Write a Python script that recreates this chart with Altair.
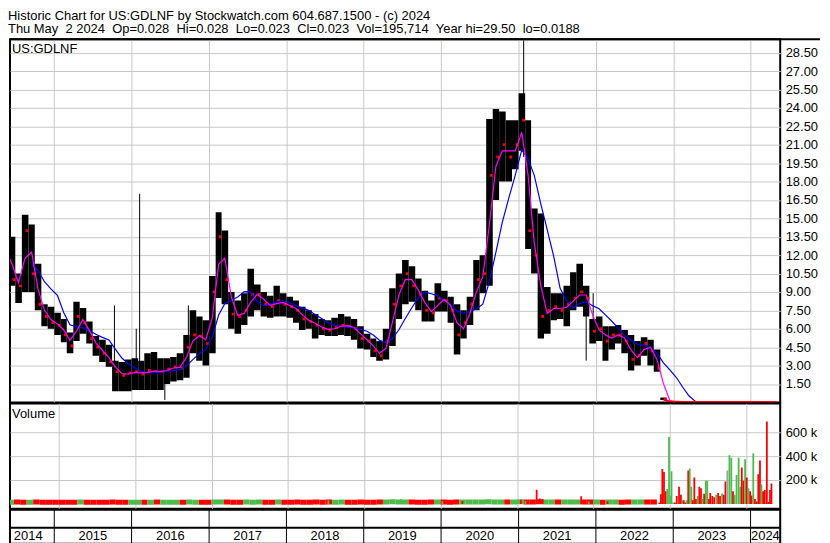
import altair as alt
import pandas as pd

FONT = "Liberation Sans"
GRID = "#c8c8c8"
RED = "#ff0000"
GREEN = "#4cbb4c"
GRAY = "#a0a0a0"
W = 774

title_lines = [
    "Historic Chart for US:GDLNF by Stockwatch.com 604.687.1500 - (c) 2024",
    "Thu May \u00a02 2024 \u00a0Op=0.028 \u00a0Hi=0.028 \u00a0Lo=0.023 \u00a0Cl=0.023 \u00a0Vol=195,714 \u00a0Year hi=29.50 \u00a0lo=0.0188",
]
symbol = "US:GDLNF"
price_ticks = [1.5, 3.0, 4.5, 6.0, 7.5, 9.0, 10.5, 12.0, 13.5, 15.0, 16.5, 18.0,
               19.5, 21.0, 22.5, 24.0, 25.5, 27.0, 28.5]
volume_ticks = [200, 400, 600]  # thousands

# ---- monthly price bars, May 2014 .. May 2024 ----
high = [
    15.0, 13.5, 10.5, 15.3, 14.5, 11.3, 8.0, 7.8,                      # 2014
    7.3, 6.8, 5.7, 8.2, 7.7, 6.6, 5.4, 5.1, 4.7, 3.4, 3.3, 3.5,        # 2015
    3.6, 3.4, 4.0, 4.1, 3.6, 3.6, 3.7, 4.0, 5.5, 7.5, 7.0, 6.7,        # 2016
    10.3, 15.5, 14.0, 9.0, 8.3, 8.9, 10.9, 9.6, 9.0, 8.7, 9.5, 8.9,    # 2017
    8.6, 8.3, 7.8, 7.5, 7.2, 6.8, 6.7, 6.9, 7.2, 7.0, 6.8, 6.2,        # 2018
    5.6, 5.2, 5.0, 6.0, 9.3, 10.5, 11.6, 11.1, 10.1, 9.1, 8.3, 9.7,    # 2019
    9.1, 8.6, 8.0, 7.5, 8.6, 11.6, 12.0, 23.1, 23.9, 23.7, 23.0, 23.0, # 2020
    25.2, 23.0, 15.8, 15.4, 9.4, 8.9, 8.9, 9.5, 10.6, 11.3, 9.5, 6.8,  # 2021
    7.0, 6.2, 6.2, 6.3, 5.9, 5.5, 5.0, 5.3, 5.1, 4.3, 0.40, 0.10,      # 2022
    0.08, 0.07, 0.06, 0.06, 0.06, 0.05, 0.05, 0.05, 0.05, 0.06, 0.05, 0.05,  # 2023
    0.04, 0.045, 0.04, 0.035, 0.028,                                   # 2024
]
low = [
    11.5, 9.5, 8.1, 9.0, 9.0, 7.5, 6.2, 6.0,
    5.5, 4.9, 4.0, 5.0, 5.6, 4.8, 3.8, 3.3, 2.9, 0.9, 0.9, 0.9,
    1.0, 1.0, 1.0, 1.0, 1.0, 1.5, 1.7, 1.8, 2.0, 4.0, 3.4, 3.0,
    4.0, 8.5, 8.0, 6.0, 5.6, 6.3, 7.0, 7.5, 7.0, 6.9, 7.0, 7.0,
    6.9, 6.5, 5.9, 6.0, 5.2, 5.5, 5.4, 5.4, 5.5, 5.4, 5.1, 4.4,
    4.3, 3.7, 3.4, 3.5, 4.6, 6.8, 8.0, 8.2, 7.5, 6.6, 6.6, 7.4,
    7.4, 6.5, 3.9, 5.2, 6.3, 7.5, 8.9, 9.5, 16.5, 18.0, 18.0, 19.0,
    20.5, 12.5, 10.5, 5.2, 5.6, 6.7, 6.8, 6.2, 7.5, 7.8, 7.0, 4.8,
    5.0, 3.4, 4.3, 4.8, 4.0, 2.6, 3.0, 3.8, 3.0, 2.5, 0.20, 0.03,
    0.03, 0.03, 0.03, 0.03, 0.03, 0.03, 0.03, 0.025, 0.025, 0.03, 0.03, 0.025,
    0.025, 0.025, 0.02, 0.02, 0.023,
]
close = [
    12.5, 10.0, 9.5, 14.0, 10.5, 8.0, 7.0, 6.5,
    6.3, 5.5, 4.6, 7.0, 6.5, 5.2, 4.5, 4.0, 3.3, 2.5, 2.2, 2.4,
    2.5, 2.3, 2.6, 2.5, 2.5, 2.7, 2.9, 2.8, 4.5, 5.5, 5.4, 4.8,
    9.0, 13.5, 10.0, 7.2, 7.0, 7.5, 8.8, 8.8, 8.0, 7.8, 8.3, 8.0,
    7.8, 7.5, 6.8, 6.6, 6.3, 6.0, 5.9, 6.1, 6.3, 6.2, 6.0, 5.2,
    5.0, 4.2, 3.8, 5.0, 8.0, 9.5, 10.5, 9.5, 8.8, 7.5, 7.3, 8.5,
    8.3, 7.5, 5.5, 6.5, 8.0, 10.0, 10.5, 18.5, 20.0, 21.0, 20.0, 21.0,
    23.0, 14.0, 12.0, 7.0, 7.5, 7.8, 7.5, 8.0, 8.5, 9.0, 8.5, 5.8,
    6.0, 5.0, 5.5, 5.5, 5.0, 3.5, 3.8, 4.8, 4.2, 2.8, 0.25, 0.05,
    0.05, 0.04, 0.04, 0.04, 0.04, 0.04, 0.035, 0.03, 0.035, 0.04, 0.035, 0.03,
    0.03, 0.03, 0.025, 0.025, 0.023,
]

# single-week spikes that stick out of the monthly bars
spike_dates = ["2015-10-12", "2016-01-23", "2016-02-08", "2016-06-06", "2016-09-25",
               "2021-01-25", "2021-11-16", "2021-12-19"]
spike_high = [7.9, 6.0, 17.0, 2.5, 7.9, 29.5, 8.5, 8.9]
spike_low = [1.5, 1.5, 1.0, 0.2, 3.5, 20.0, 3.4, 5.0]

# ---- volume (thousands) ----
vol_monthly = [
    14, 15, 13, 14, 16, 14, 13, 14,
    13, 14, 14, 15, 13, 14, 13, 14, 15, 14, 13, 14,
    14, 13, 14, 15, 14, 13, 14, 14, 15, 13, 14, 14,
    15, 16, 15, 14, 14, 15, 14, 15, 14, 14, 15, 14,
    14, 15, 14, 14, 15, 14, 16, 14, 15, 14, 14, 15,
    14, 14, 15, 16, 17, 16, 15, 15, 14, 14, 15, 15,
    15, 14, 16, 15, 15, 16, 15, 17, 16, 15, 15, 16,
    17, 16, 16, 17, 16, 15, 15, 16, 16, 15, 16, 15,
    15, 14, 15, 15, 14, 15, 16, 15, 15, 16,
]
bump_dates = ["2017-03-10", "2018-02-20", "2018-07-14", "2019-03-20", "2019-06-27", "2019-08-15",
              "2020-01-10", "2020-04-15", "2020-06-10", "2020-08-20", "2021-01-20", "2021-02-10",
              "2021-04-05", "2021-04-20", "2021-05-04", "2021-06-15", "2021-09-16", "2021-11-04",
              "2021-12-10", "2022-03-10", "2022-07-15"]
bump_vol = [20, 18, 28, 20, 40, 25, 22, 25, 22, 30, 35, 25, 118, 45, 40, 25, 28, 64, 20, 22, 20]
bump_dir = ["down", "down", "up", "down", "up", "down", "up", "down", "up", "up", "down", "up",
            "down", "down", "down", "up", "up", "down", "up", "down", "up"]

late_dates = [
    "2022-11-12", "2022-11-20", "2022-11-27", "2022-12-05", "2022-12-13", "2022-12-21", "2022-12-29",
    "2023-01-05", "2023-01-10", "2023-01-18", "2023-01-26", "2023-02-04", "2023-02-15", "2023-02-24",
    "2023-03-04", "2023-03-10", "2023-03-18", "2023-03-24", "2023-03-31", "2023-04-07", "2023-04-15",
    "2023-04-21", "2023-04-29", "2023-05-07", "2023-05-15", "2023-05-23", "2023-05-31", "2023-06-07",
    "2023-06-15", "2023-06-23", "2023-06-30", "2023-07-08", "2023-07-14", "2023-07-24", "2023-08-02",
    "2023-08-12", "2023-08-21", "2023-08-30", "2023-09-09", "2023-09-17", "2023-09-25", "2023-10-04",
    "2023-10-14", "2023-10-23", "2023-10-31", "2023-11-08", "2023-11-17", "2023-11-27", "2023-12-05",
    "2023-12-12", "2023-12-20", "2023-12-28", "2024-01-05", "2024-01-13", "2024-01-21", "2024-01-28",
    "2024-02-05", "2024-02-13", "2024-02-21", "2024-02-29", "2024-03-08", "2024-03-15", "2024-03-23",
    "2024-03-31", "2024-04-10", "2024-04-17", "2024-04-25", "2024-05-02",
]
late_vol = [
    10, 80, 292, 266, 105, 125, 561, 70, 274, 12,
    12, 66, 143, 77, 30, 30, 12, 30, 279, 297,
    143, 30, 220, 40, 66, 143, 130, 40, 85, 194,
    194, 40, 92, 66, 55, 77, 92, 66, 88, 77,
    187, 280, 408, 387, 105, 77, 241, 387, 143, 305,
    194, 374, 220, 130, 105, 70, 425, 40, 20, 248,
    364, 164, 105, 117, 689, 15, 117, 170,
]
late_dir = [
    "down", "down", "down", "down", "down", "up", "up", "up", "up", "up",
    "down", "down", "down", "down", "up", "down", "down", "up", "down", "up",
    "up", "down", "down", "down", "up", "down", "down", "up", "down", "up",
    "up", "down", "down", "down", "down", "up", "down", "down", "up", "down",
    "down", "flat", "up", "up", "down", "up", "up", "up", "up", "down",
    "down", "up", "down", "up", "down", "down", "up", "down", "down", "down",
    "down", "up", "down", "down", "down", "down", "down", "down",
]

years = [str(y) for y in range(2014, 2025)]
DATA_START = "2014-05-01"
VIEW_END = "2024-05-20"
LAST_DAY = "2024-05-03"

# ---------------- tables ----------------
fmt = lambda d: d.strftime("%Y-%m-%d")
starts = list(pd.date_range(DATA_START, periods=len(high), freq="MS"))
ends = starts[1:] + [pd.Timestamp(LAST_DAY)]
price_df = pd.DataFrame({
    "i": range(len(high)),
    "date": [fmt(s) for s in starts],
    "end": [fmt(e) for e in ends],
    "mid": [fmt(s + (e - s) / 2) for s, e in zip(starts, ends)],
    "cdate": [fmt(s + (e - s) * 0.8) for s, e in zip(starts, ends)],
    "high": high, "low": low, "close": close,
})
spike_df = pd.DataFrame({"date": spike_dates, "high": spike_high, "low": spike_low})

nm = len(vol_monthly)
vm_dir = ["up" if i == 0 or close[i] >= close[i - 1] else "down" for i in range(nm)]
vol_m_df = pd.DataFrame({"date": price_df["date"][:nm], "end": price_df["end"][:nm],
                         "vol": vol_monthly, "dir": vm_dir})
vol_w_df = pd.DataFrame({"date": bump_dates + late_dates, "vol": bump_vol + late_vol,
                         "dir": bump_dir + late_dir})

ys = [max(pd.Timestamp(f"{y}-01-01"), pd.Timestamp(DATA_START)) for y in years]
ye = [min(pd.Timestamp(f"{int(y) + 1}-01-01"), pd.Timestamp(VIEW_END)) for y in years]
year_df = pd.DataFrame({"label": years, "start": [fmt(s) for s in ys],
                        "mid": [fmt(s + (e - s) / 2) for s, e in zip(ys, ye)]})

one = pd.DataFrame({"t": [symbol]})

# ---------------- scales / axes ----------------
xscale = alt.Scale(type="utc", domain=[alt.DateTime(year=2014, month=6, date=6, utc=True),
                                       alt.DateTime(year=2024, month=5, date=20, utc=True)])
year_grid = [alt.DateTime(year=int(y), month=1, date=1, utc=True) for y in years[1:]]
x_axis = alt.Axis(values=year_grid, labels=False, ticks=False, domain=False, title=None,
                  grid=True, gridColor=GRID, gridWidth=1)


def X(f, axis=True):
    return alt.X(f"{f}:T", scale=xscale, axis=x_axis if axis else None)


pscale = alt.Scale(domain=[0, 29.6], nice=False, zero=False)
p_axis = alt.Axis(orient="right", values=price_ticks, format=".2f", ticks=False, domain=False,
                  grid=True, gridColor=GRID, gridWidth=1, title=None, labelPadding=5,
                  labelFontSize=13, labelColor="black", labelFont=FONT)


def YP(f):
    return alt.Y(f"{f}:Q", scale=pscale, axis=p_axis)


vscale = alt.Scale(domain=[0, 800], nice=False)
v_axis = alt.Axis(orient="right", values=volume_ticks, labelExpr="datum.value + ' k'", ticks=False,
                  domain=False, grid=True, gridColor=GRID, gridWidth=1, title=None, labelPadding=5,
                  labelFontSize=13, labelColor="black", labelFont=FONT)


def YV(f):
    return alt.Y(f"{f}:Q", scale=vscale, axis=v_axis)


dir_color = alt.Color("dir:N", scale=alt.Scale(domain=["up", "down", "flat"],
                                               range=[GREEN, RED, GRAY]), legend=None)

# ---------------- price panel ----------------
pb = alt.Chart(price_df)
bars = pb.mark_bar(color="black", clip=True).encode(x=X("date"), x2="end:T", y=YP("low"), y2="high:Q")
spikes = alt.Chart(spike_df).mark_rule(color="black", strokeWidth=1, clip=True).encode(
    x=X("date"), y=YP("low"), y2="high:Q")
closes = pb.transform_filter("datum.i <= 102").mark_square(
    size=8, color=RED, opacity=1, clip=True).encode(x=X("cdate"), y=YP("close"))
late_line = pb.transform_filter("datum.i >= 102").mark_line(
    color=RED, strokeWidth=2, clip=True).encode(x=X("mid"), y=YP("close"))
slow = pb.transform_window(ma="mean(close)", frame=[-5, 0], sort=[alt.SortField("i")]).transform_filter(
    "datum.i >= 4").mark_line(color="#0000ff", strokeWidth=1.2, clip=True).encode(x=X("mid"), y=YP("ma"))
fast = pb.transform_window(ma="mean(close)", frame=[-1, 0], sort=[alt.SortField("i")]).mark_line(
    color="#ff00ff", strokeWidth=1.2, clip=True).encode(x=X("mid"), y=YP("ma"))
sym = alt.Chart(one).mark_text(align="left", baseline="middle", fontSize=13, color="black",
                               font=FONT).encode(x=alt.value(2), y=alt.value(10), text="t:N")
topline = alt.Chart(one).mark_rule(color="black", strokeWidth=2).encode(
    x=alt.value(0), x2=alt.value(814), y=alt.value(0))
price_chart = alt.layer(bars, spikes, closes, slow, fast, late_line, sym, topline).properties(
    width=W, height=365)

# ---------------- volume panel ----------------
vm = alt.Chart(vol_m_df).mark_bar(clip=True).encode(x=X("date"), x2="end:T", y=YV("vol"), color=dir_color)
vw = alt.Chart(vol_w_df).mark_bar(width=1.8, clip=True).encode(x=X("date"), y=YV("vol"), color=dir_color)
vlab = alt.Chart(pd.DataFrame({"t": ["Volume"]})).mark_text(
    align="left", baseline="middle", fontSize=13, color="black", font=FONT).encode(
    x=alt.value(2), y=alt.value(11), text="t:N")
vol_chart = alt.layer(vm, vw, vlab).properties(width=W, height=106)

# ---------------- year band ----------------
yb = alt.Chart(year_df)
dividers = yb.transform_filter("datum.label != '2014'").mark_rule(color="black", strokeWidth=1).encode(
    x=X("start", axis=False), y=alt.value(0), y2=alt.value(34))
midline = alt.Chart(one).mark_rule(color="black", strokeWidth=2).encode(
    x=alt.value(0), x2=alt.value(W), y=alt.value(18))
ylabels = yb.mark_text(fontSize=13, color="black", baseline="middle", font=FONT).encode(
    x=X("mid", axis=False), y=alt.value(26.5), text="label:N")
band = alt.layer(dividers, midline, ylabels).properties(width=W, height=34)

chart = alt.vconcat(price_chart, vol_chart, band, spacing=1, bounds="flush").properties(
    title=alt.TitleParams(title_lines, anchor="start", fontSize=13, font=FONT, fontWeight="normal",
                          color="black", lineHeight=13.5, offset=1),
    padding=0, background="white",
).configure(font=FONT).configure_view(stroke="black", strokeWidth=2)

chart.save("out.html", embed_options={"renderer": "svg", "actions": False})
